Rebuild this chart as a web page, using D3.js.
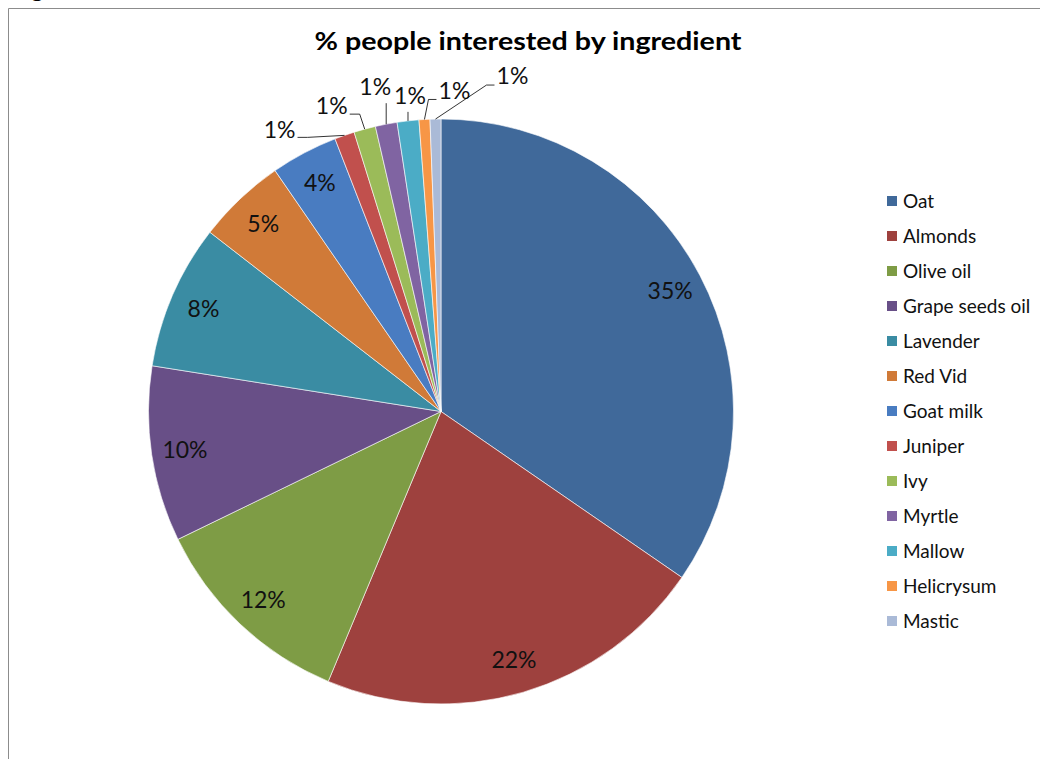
<!DOCTYPE html>
<html>
<head>
<meta charset="utf-8">
<script src="https://cdn.jsdelivr.net/npm/d3@7"></script>
<style>
  html, body { margin: 0; padding: 0; background: #fff; }
  svg { display: block; }
  text { font-family: Lato, "Open Sans", sans-serif; }
</style>
</head>
<body>
<svg id="chart" width="1040" height="759"></svg>
<script>
// ---- data ----
const categories = ["Oat", "Almonds", "Olive oil", "Grape seeds oil", "Lavender", "Red Vid",
  "Goat milk", "Juniper", "Ivy", "Myrtle", "Mallow", "Helicrysum", "Mastic"];
const values = [34.6, 21.7, 11.5, 9.7, 8.0, 4.9, 3.7, 1.1, 1.2, 1.2, 1.2, 0.6, 0.6];
const colors = ["#40699A", "#9E413E", "#7E9C45", "#684F87", "#3A8CA3", "#D07A38",
  "#497CC1", "#C1504D", "#9BBB59", "#8064A2", "#4BACC6", "#F79646", "#AABAD7"];
const title = "% people interested by ingredient";
// layout: offsets of outside labels from their slice's arc midpoint (null = inside label)
const outerLabelOffset = [null, null, null, null, null, null, null,
  [-65, -6], [-33, -23], [-11, -37], [2, -25], [30, -29], [77, -43]];

const svg = d3.select("#chart");
const W = 1040, H = 759;

// chart frame border
svg.append("path")
  .attr("d", `M8.5,${H} V8.5 H${W}`)
  .attr("fill", "none").attr("stroke", "#8c8c8c").attr("stroke-width", 1);
// partially clipped glyph above frame (as in the reference)
svg.append("text").attr("x", 31).attr("y", -3)
  .attr("font-size", 24).attr("font-weight", "bold").attr("fill", "#000").text("g");

// title
svg.append("text")
  .attr("x", 528).attr("y", 50)
  .attr("text-anchor", "middle")
  .attr("font-size", 25).attr("font-weight", "bold").attr("fill", "#000")
  .attr("textLength", 427).attr("lengthAdjust", "spacingAndGlyphs")
  .text(title);

// pie
const cx = 441, cy = 411.5, r = 292.5;
const total = d3.sum(values);
const pie = d3.pie().sort(null).value(d => d)(values);
const arc = d3.arc().innerRadius(0).outerRadius(r);

const g = svg.append("g").attr("transform", `translate(${cx},${cy})`);
g.selectAll("path.slice").data(pie).enter().append("path")
  .attr("class", "slice")
  .attr("d", arc)
  .attr("fill", (d, i) => colors[i])
  .attr("stroke", "#fff").attr("stroke-width", 0.6);

const pctText = v => Math.round(v / total * 100 + 1e-9) + "%";
const midAngle = d => (d.startAngle + d.endAngle) / 2;

pie.forEach((d, i) => {
  const a = midAngle(d);
  const off = outerLabelOffset[i];
  if (!off) {
    const R = 0.885 * r;
    g.append("text")
      .attr("x", R * Math.sin(a)).attr("y", -R * Math.cos(a))
      .attr("dy", "0.36em")
      .attr("text-anchor", "middle")
      .attr("font-size", 23).attr("fill", "#111")
      .text(pctText(d.value));
  } else {
    const ax = r * Math.sin(a), ay = -r * Math.cos(a);
    const lx = ax + off[0], ly = ay + off[1];
    const hw = 15, hh = 10;
    let pts;
    if (lx + hw < ax - 5) {
      const ex = lx + hw + 3, ey = ly + 8;
      pts = [[ex, ey], [ex + 10, ey], [ax, ay]];
    } else if (lx - hw > ax + 5) {
      const ex = lx - hw - 3, ey = ly + 9;
      pts = [[ex, ey], [ex - 8, ey], [ax, ay]];
    } else {
      pts = [[ax, ly + hh + 6], [ax, ay]];
    }
    g.append("path")
      .attr("d", d3.line()(pts))
      .attr("fill", "none").attr("stroke", "#000").attr("stroke-width", 0.8);
    g.append("text")
      .attr("x", lx).attr("y", ly)
      .attr("dy", "0.36em")
      .attr("text-anchor", "middle")
      .attr("font-size", 23).attr("fill", "#111")
      .text(pctText(d.value));
  }
});

// legend
const legendY = d3.scalePoint().domain(categories).range([201, 621]);
const lg = svg.append("g");
categories.forEach((c, i) => {
  const y = legendY(c);
  lg.append("rect").attr("x", 887).attr("y", y - 5).attr("width", 10).attr("height", 10)
    .attr("fill", colors[i]);
  lg.append("text").attr("x", 903).attr("y", y).attr("dy", "0.36em")
    .attr("font-size", 19).attr("fill", "#111").text(c);
});
</script>
</body>
</html>
